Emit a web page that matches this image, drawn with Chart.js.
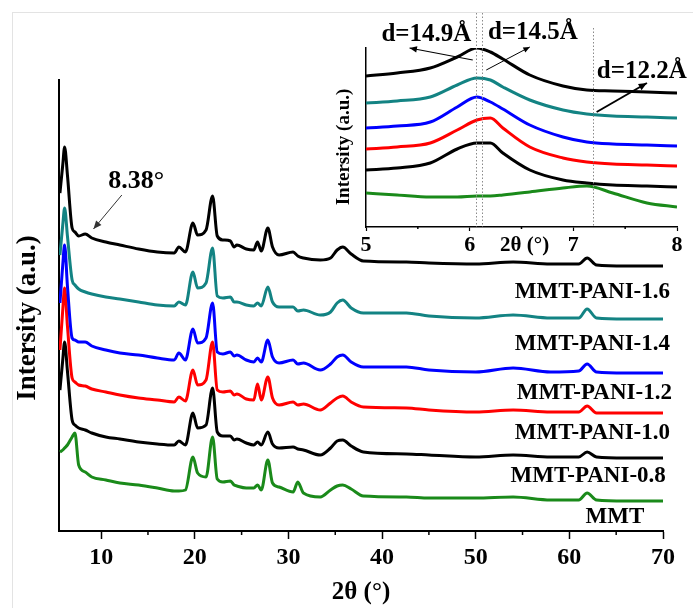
<!DOCTYPE html>
<html><head><meta charset="utf-8">
<script src="https://cdn.jsdelivr.net/npm/chart.js@4.4.0/dist/chart.umd.min.js"></script>
<style>
html,body{margin:0;padding:0;background:#fff;}
#wrap{position:relative;width:693px;height:608px;overflow:hidden;background:#fff;}
#frame{position:absolute;left:12px;top:12px;width:800px;height:800px;border-left:1px solid #e3e3e3;border-top:1px solid #e3e3e3;}
canvas{position:absolute;left:0;top:0;}
</style></head><body>
<div id="wrap"><div id="frame"></div><canvas id="main" width="693" height="608"></canvas><canvas id="inset" width="693" height="608"></canvas></div>
<script>
// ---------- main pattern (2θ in degrees, intensity in a.u. with stacking offsets included) ----------
const twoTheta = [5.6,5.9,6.1,6.4,6.9,7.2,7.6,8.3,9,10.5,12,14,16,17.8,18.3,19.0,19.8,20.3,21.2,21.9,22.4,23.0,23.8,24.2,24.5,25.5,26.3,26.7,27.1,27.8,28.3,29.0,30.5,31.0,31.6,33.4,34.5,35.2,35.8,36.7,38,42.6,45,50,54,58,61.0,61.9,62.9,66,70];
const pani16 = [338,366,384,356,303,299,295,297,293,289,286,282,279,278,284,279,308,296,301,335,295,291,290,284,286,282,281,289,280,303,284,276,279,275,273,271,273,281,284,277,270,269,268,267,269,267,267,273,266,265,265];
const pani14 = [276,306,323,295,251,246,242,239,237,234,232,229,226,225,229,226,259,243,248,283,235,233,234,229,229,226,225,228,225,244,229,224,224,220,221,216,219,228,231,223,218,218,215,213,216,213,213,222,213,212,212];
const pani12 = [228,266,286,245,193,191,189,189,185,181,178,176,173,171,178,171,202,188,193,228,179,177,179,175,176,171,169,173,169,191,174,168,171,167,168,161,167,174,176,169,164,164,161,159,163,159,160,167,159,158,158];
const pani10 = [181,221,243,205,153,149,146,145,142,139,136,133,131,129,134,130,161,146,151,189,141,139,140,136,137,132,131,147,131,154,133,126,129,126,127,121,128,133,135,129,124,123,121,119,121,119,119,125,118,118,118];
const pani08 = [141,171,189,160,111,106,103,101,98,94,92,89,87,86,90,86,118,103,106,143,99,95,95,91,92,88,86,89,86,99,87,83,84,82,81,76,83,90,91,85,79,77,76,74,76,74,74,79,74,73,73];
const mmt    = [79,81,83,86,94,98,66,59,54,51,48,46,43,40,40,41,74,58,54,94,52,49,50,46,45,43,43,46,41,71,48,44,39,49,38,34,41,45,46,42,35,34,33,33,34,31,31,38,31,30,30];
const seriesNames = ['MMT-PANI-1.6','MMT-PANI-1.4','MMT-PANI-1.2','MMT-PANI-1.0','MMT-PANI-0.8','MMT'];
const xMajorTicks = [10,20,30,40,50,60,70];
const xMinorTicks = [15,25,35,45,55,65];

// ---------- inset (5–8°) ----------
const twoThetaZoom = [5.0,5.3,5.62,5.88,6.07,6.2,6.32,6.58,6.9,7.13,7.38,7.71,8.0];
const z16  = [149,152,157,168,177,173,166,150,139,135,134,133,132];
const z14  = [122,124,128,140,147,145,138,125,115,111,109,108,107];
const z12  = [97,99,103,118,128,123,116,100,88,83,81,80,79];
const z10  = [76,78,82,95,105,107,97,78,67,63,61,60,59];
const z08  = [55,57,62,76,82,82,72,55,45,42,40,39,38];
const zmmt = [32,30,28,28,29,29,30,33,37,39,32,22,18];
const dSpacingMarks = [6.06, 6.12, 7.19];
const zoomMinorTicks = [5.5,6.5,7.5];

const colors = ['#000000','#138383','#0000ff','#ff0000','#000000','#1a8a1a'];
const FONT = "'Liberation Serif','Times New Roman',serif";

function pts(xs, ys){ return xs.map((x,i)=>({x:x, y:ys[i]})); }

function drawArrow(ctx, x1,y1,x2,y2, w, head, color){
  ctx.strokeStyle=color; ctx.fillStyle=color; ctx.lineWidth=w;
  ctx.beginPath(); ctx.moveTo(x1,y1); ctx.lineTo(x2,y2); ctx.stroke();
  const a=Math.atan2(y2-y1,x2-x1);
  ctx.beginPath();
  ctx.moveTo(x2,y2);
  ctx.lineTo(x2-head*Math.cos(a-0.4), y2-head*Math.sin(a-0.4));
  ctx.lineTo(x2-head*Math.cos(a+0.4), y2-head*Math.sin(a+0.4));
  ctx.closePath(); ctx.fill();
}

const annotPlugin = {
  id:'annot',
  afterDraw(chart, args, opts){
    const ctx=chart.ctx, xs=chart.scales.x, ys=chart.scales.y;
    ctx.save();
    (opts.minor||[]).forEach(v=>{
      const px=xs.getPixelForValue(v);
      ctx.strokeStyle='#000'; ctx.lineWidth=1.5;
      ctx.beginPath(); ctx.moveTo(px, ys.bottom); ctx.lineTo(px, ys.bottom+opts.minorLen); ctx.stroke();
    });
    (opts.vlines||[]).forEach(l=>{
      const px=Math.round(xs.getPixelForValue(l.x))+0.5;
      ctx.strokeStyle='#8a8a8a'; ctx.lineWidth=1; ctx.setLineDash([1.5,2]);
      ctx.beginPath(); ctx.moveTo(px, ys.getPixelForValue(l.top)); ctx.lineTo(px, ys.bottom); ctx.stroke();
      ctx.setLineDash([]);
    });
    (opts.arrows||[]).forEach(a=>{
      drawArrow(ctx, xs.getPixelForValue(a.x1), ys.getPixelForValue(a.y1), xs.getPixelForValue(a.x2), ys.getPixelForValue(a.y2), a.w, a.head, a.color);
    });
    (opts.texts||[]).forEach(t=>{
      ctx.save();
      ctx.fillStyle='#000';
      ctx.font='bold '+t.size+'px '+FONT;
      ctx.textAlign=t.align||'center'; ctx.textBaseline='middle';
      ctx.translate(xs.getPixelForValue(t.x), ys.getPixelForValue(t.y));
      if(t.rot) ctx.rotate(t.rot);
      ctx.fillText(t.text,0,0);
      ctx.restore();
    });
    ctx.restore();
  }
};

const mainData = [pani16,pani14,pani12,pani10,pani08,mmt];
new Chart(document.getElementById('main'), {
  type:'line',
  data:{ datasets: mainData.map((d,i)=>({label:seriesNames[i], data:pts(twoTheta,d), borderColor:colors[i], borderWidth:3, pointRadius:0, cubicInterpolationMode:'monotone', fill:false})) },
  options:{
    responsive:false, animation:false, devicePixelRatio:1,
    layout:{padding:{left:59,right:30,top:80,bottom:0}},
    plugins:{legend:{display:false}, tooltip:{enabled:false},
      annot:{
        minor:xMinorTicks, minorLen:4,
        arrows:[{x1:12.21,y1:336,x2:9.18,y2:302,w:1,head:9,color:'#333'}],
        texts:[
          {text:'8.38°', x:13.74, y:350, size:26},
          {text:'MMT-PANI-1.6', x:70.75, y:239, size:23, align:'right'},
          {text:'MMT-PANI-1.4', x:70.75, y:187, size:23, align:'right'},
          {text:'MMT-PANI-1.2', x:70.95, y:138, size:23, align:'right'},
          {text:'MMT-PANI-1.0', x:70.75, y:98, size:23, align:'right'},
          {text:'MMT-PANI-0.8', x:70.3, y:55, size:23, align:'right'},
          {text:'MMT', x:64.86, y:14, size:23},
          {text:'Intersity (a.u.)', x:2.2, y:213, size:27, rot:-Math.PI/2}
        ]
      }
    },
    scales:{
      x:{type:'linear', min:5.5, max:70,
        afterFit(s){ s.height=77; },
        afterBuildTicks(s){ s.ticks = xMajorTicks.map(v=>({value:v})); },
        ticks:{color:'#000', font:{family:FONT, size:24, weight:'bold'}, padding:4, maxRotation:0},
        grid:{drawOnChartArea:false, tickLength:8, tickColor:'#000', tickWidth:1.5},
        border:{color:'#000', width:2},
        title:{display:true, text:'2θ (°)', color:'#000', font:{family:FONT, size:25, weight:'bold'}, padding:{top:2,bottom:0}}
      },
      y:{min:0, max:451, afterFit(s){ s.width=0; },
        ticks:{display:false}, grid:{display:false, drawTicks:false}, border:{display:true, color:'#000', width:2}}
    }
  },
  plugins:[annotPlugin]
});

const zoomData = [z16,z14,z12,z10,z08,zmmt];
new Chart(document.getElementById('inset'), {
  type:'line',
  data:{ datasets: zoomData.map((d,i)=>({label:seriesNames[i], data:pts(twoThetaZoom,d), borderColor:colors[i], borderWidth:3, pointRadius:0, cubicInterpolationMode:'monotone', fill:false})) },
  options:{
    responsive:false, animation:false, devicePixelRatio:1,
    layout:{padding:{left:366,right:16,top:48,bottom:0}},
    plugins:{legend:{display:false}, tooltip:{enabled:false},
      annot:{
        minor:zoomMinorTicks, minorLen:2,
        vlines:[{x:dSpacingMarks[0], top:212},{x:dSpacingMarks[1], top:212},{x:dSpacingMarks[2], top:197}],
        arrows:[
          {x1:6.03,y1:165,x2:5.42,y2:177,w:1.2,head:8,color:'#000'},
          {x1:6.16,y1:155,x2:6.58,y2:178,w:1,head:7,color:'#000'},
          {x1:7.225,y1:113,x2:7.71,y2:142,w:2,head:9,color:'#000'}
        ],
        texts:[
          {text:'d=14.9Å', x:5.583, y:190, size:25},
          {text:'d=14.5Å', x:6.61, y:192, size:25},
          {text:'d=12.2Å', x:7.66, y:153, size:25},
          {text:'2θ (°)', x:6.53, y:-21, size:21},
          {text:'Intersity (a.u.)', x:4.79, y:78, size:19, rot:-Math.PI/2}
        ]
      }
    },
    scales:{
      x:{type:'linear', min:5, max:8,
        afterFit(s){ s.height=608-227; },
        ticks:{stepSize:1, color:'#000', font:{family:FONT, size:22, weight:'bold'}, padding:1, maxRotation:0},
        grid:{drawOnChartArea:false, tickLength:4, tickColor:'#000', tickWidth:1.2},
        border:{color:'#000', width:1.5}
      },
      y:{min:-2, max:177, afterFit(s){ s.width=0; },
        ticks:{display:false}, grid:{display:false, drawTicks:false}, border:{display:true, color:'#000', width:1.5}}
    }
  },
  plugins:[annotPlugin]
});
</script>
</body></html>
